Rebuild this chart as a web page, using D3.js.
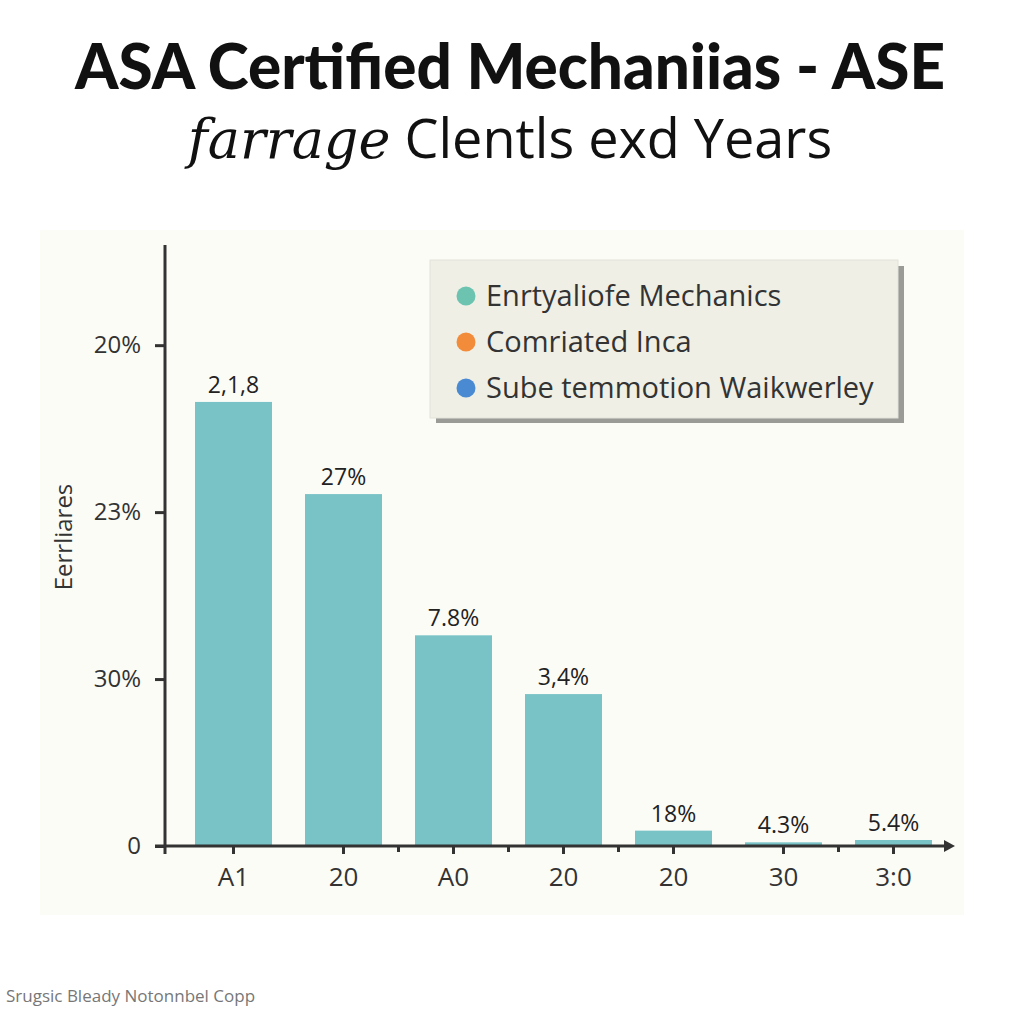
<!DOCTYPE html>
<html>
<head>
<meta charset="utf-8">
<script src="https://cdn.jsdelivr.net/npm/d3@7"></script>
<style>
  html, body { margin: 0; padding: 0; background: #ffffff; }
  svg { display: block; }
</style>
</head>
<body>
<svg id="chart" width="1024" height="1024"></svg>
<script>
// ---- data ----
const categories = ["A1", "20", "A0", "20", "20", "30", "3:0"];
const values = [2.66, 2.108, 1.262, 0.91, 0.092, 0.022, 0.036];
const barLabels = ["2,1,8", "27%", "7.8%", "3,4%", "18%", "4.3%", "5.4%"];
const yTickValues = [0, 1, 2, 3];
const yTickLabels = ["0", "30%", "23%", "20%"];
const minorTickAfter = [1, 2, 3, 5];
const legendLabels = ["Enrtyaliofe Mechanics", "Comriated Inca", "Sube temmotion Waikwerley"];
const legendColors = ["#6cc4b0", "#f28c3a", "#4a8ad2"];
const titleText = "ASA Certified Mechaniias - ASE";
const subtitleItalic = "farrage";
const subtitleRest = " Clentls exd Years";
const yAxisTitle = "Eerrliares";
const footerText = "Srugsic Bleady Notonnbel Copp";

// ---- layout ----
const svg = d3.select("#chart");
const x0 = 165, yBase = 846, yTop = 245;

const x = d3.scaleBand()
  .domain(d3.range(categories.length))
  .range([x0, x0 + 110 * (7 - 0.3 + 2 * 0.2727)])
  .paddingInner(0.3)
  .paddingOuter(0.2727);

const y = d3.scaleLinear().domain([0, 3.6]).range([yBase, yTop]);

// panel background
svg.append("rect").attr("x", 40).attr("y", 230).attr("width", 924).attr("height", 685)
  .attr("fill", "#fcfcf7");

// title
svg.append("text").attr("x", 510).attr("y", 89).attr("text-anchor", "middle")
  .attr("font-family", "Lato, 'Open Sans', sans-serif").attr("font-weight", 900)
  .attr("font-size", 62).attr("fill", "#111").text(titleText);

const sub = svg.append("text").attr("x", 510).attr("y", 158).attr("text-anchor", "middle")
  .attr("fill", "#111").attr("font-size", 54);
sub.append("tspan").attr("font-family", "'DejaVu Serif', 'Liberation Serif', serif")
  .attr("font-style", "italic").text(subtitleItalic);
sub.append("tspan").attr("font-family", "'Open Sans', Lato, sans-serif")
  .attr("font-weight", 400).text(subtitleRest);

// bars
svg.append("g").selectAll("rect").data(values).join("rect")
  .attr("x", (d, i) => x(i))
  .attr("y", d => y(d))
  .attr("width", x.bandwidth())
  .attr("height", d => yBase - y(d))
  .attr("fill", "#79c3c6");

// bar labels
svg.append("g").selectAll("text").data(values).join("text")
  .attr("x", (d, i) => x(i) + x.bandwidth() / 2)
  .attr("y", d => y(d) - 9)
  .attr("text-anchor", "middle")
  .attr("font-family", "'Open Sans', sans-serif")
  .attr("font-size", 23).attr("fill", "#222")
  .text((d, i) => barLabels[i]);

// y axis
const yAxis = d3.axisLeft(y).tickValues(yTickValues)
  .tickFormat((d, i) => yTickLabels[i]).tickSize(10).tickPadding(14);
const gy = svg.append("g").attr("transform", `translate(${x0},0)`).call(yAxis);
gy.select(".domain").remove();
gy.selectAll(".tick line").attr("stroke", "#333").attr("stroke-width", 3);
gy.selectAll(".tick text").attr("font-family", "'Open Sans', sans-serif")
  .attr("font-size", 24).attr("fill", "#333");
svg.append("line").attr("x1", x0).attr("x2", x0).attr("y1", yTop).attr("y2", yBase + 8)
  .attr("stroke", "#333").attr("stroke-width", 3);

// x axis
const xAxis = d3.axisBottom(x).tickFormat(i => categories[i]).tickSize(8).tickPadding(14);
const gx = svg.append("g").attr("transform", `translate(0,${yBase})`).call(xAxis);
gx.select(".domain").remove();
gx.selectAll(".tick line").attr("stroke", "#333").attr("stroke-width", 3);
gx.selectAll(".tick text").attr("font-family", "'Open Sans', sans-serif")
  .attr("font-size", 26).attr("fill", "#333");
svg.append("line").attr("x1", x0 - 10).attr("x2", 950).attr("y1", yBase).attr("y2", yBase)
  .attr("stroke", "#333").attr("stroke-width", 3);
svg.append("path").attr("d", `M944,${yBase - 6} L955,${yBase} L944,${yBase + 6} Z`).attr("fill", "#333");
// minor ticks
svg.append("g").selectAll("line").data(minorTickAfter).join("line")
  .attr("x1", i => x(i) + x.bandwidth() + x.step() * x.paddingInner() / 2)
  .attr("x2", i => x(i) + x.bandwidth() + x.step() * x.paddingInner() / 2)
  .attr("y1", yBase).attr("y2", yBase + 6)
  .attr("stroke", "#333").attr("stroke-width", 3);

// y axis title
svg.append("text").attr("transform", "translate(72,537) rotate(-90)")
  .attr("text-anchor", "middle").attr("font-family", "'Open Sans', sans-serif")
  .attr("font-size", 24).attr("fill", "#333").text(yAxisTitle);

// legend
const lg = svg.append("g");
lg.append("rect").attr("x", 436).attr("y", 266).attr("width", 468).attr("height", 157).attr("fill", "#9a9a96");
lg.append("rect").attr("x", 430).attr("y", 260).attr("width", 468).attr("height", 158)
  .attr("fill", "#efefe6").attr("stroke", "#e2e2da").attr("stroke-width", 1);
const items = lg.selectAll("g.item").data(legendLabels).join("g").attr("class", "item")
  .attr("transform", (d, i) => `translate(466,${296 + i * 46})`);
items.append("circle").attr("r", 9.5).attr("fill", (d, i) => legendColors[i]);
items.append("text").attr("x", 20).attr("y", 10)
  .attr("font-family", "'Open Sans', sans-serif").attr("font-size", 29).attr("fill", "#333")
  .text(d => d);

// footer
svg.append("text").attr("x", 6).attr("y", 1002)
  .attr("font-family", "'Open Sans', sans-serif").attr("font-size", 17).attr("fill", "#777")
  .text(footerText);
</script>
</body>
</html>
